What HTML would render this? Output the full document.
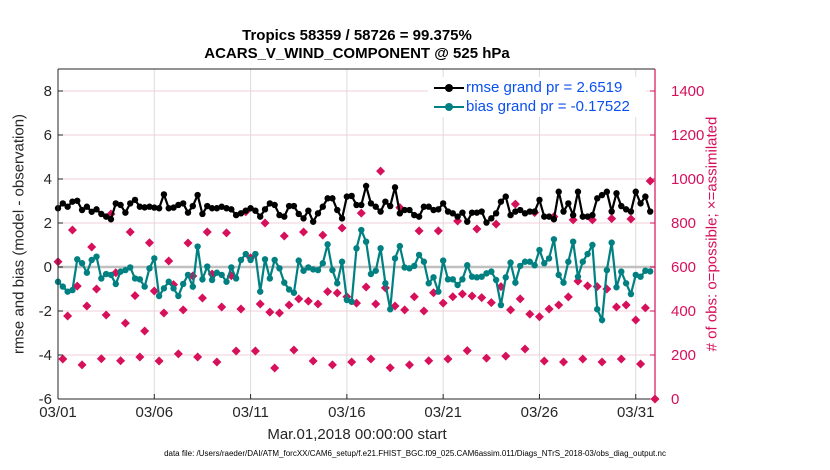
<!DOCTYPE html>
<html><head><meta charset="utf-8"><style>
body{margin:0;background:#fff;}
svg{display:block;font-family:"Liberation Sans",sans-serif;}
</style></head><body>
<svg id="chart" width="830" height="470" viewBox="0 0 830 470"></svg>
<script>
const rmse=[2.67,2.89,2.74,2.97,3.01,2.59,2.74,2.51,2.62,2.41,2.29,2.17,2.89,2.82,2.47,2.89,3.05,2.74,2.71,2.74,2.70,2.67,3.30,2.67,2.70,2.82,2.89,2.47,2.77,3.27,2.41,2.77,2.67,2.67,2.74,2.67,2.62,2.36,2.44,2.56,2.67,2.56,2.29,2.62,2.89,2.82,2.36,2.29,2.77,2.77,2.41,2.21,2.56,2.06,2.44,2.74,3.12,3.12,2.59,2.21,3.20,3.23,2.82,
2.82,3.68,2.89,2.74,2.52,2.97,2.77,3.62,2.44,2.59,2.59,2.36,2.29,2.74,2.74,2.59,2.62,2.89,2.52,2.44,2.29,2.47,2.06,2.47,2.47,2.52,2.02,2.21,2.44,2.97,3.20,2.36,2.52,2.59,2.44,2.52,2.52,3.05,2.29,2.29,2.17,3.42,2.52,2.89,2.36,3.42,2.29,2.29,2.36,3.12,3.27,3.42,2.52,3.35,2.77,2.62,2.52,3.42,2.89,3.20,2.52];
const bias=[-0.67,-0.89,-1.12,-1.05,0.35,0.17,-0.26,0.32,0.47,-0.52,-0.32,-0.36,-0.77,-0.21,-0.14,-0.02,-0.52,-0.56,-0.89,-0.06,0.39,-1.32,-0.97,-0.67,-0.97,-1.32,-0.77,-0.36,-0.89,0.93,-0.56,0.02,-0.59,-0.26,-0.36,-0.67,-0.02,-0.52,0.32,0.59,0.32,0.59,-1.12,0.35,-0.52,0.32,-0.06,-0.71,-1.02,-1.17,0.29,-0.17,-0.02,-0.11,-0.14,0.17,1.03,-0.14,-0.74,0.24,-1.50,-1.58,0.85,
1.68,1.15,-0.32,-0.17,0.85,-0.74,-1.92,0.39,0.95,-0.02,-0.06,0.05,0.55,0.24,-0.74,-0.47,-1.12,0.29,-0.56,-0.56,-0.82,-0.56,0.08,-0.44,-0.47,-0.44,-0.29,-0.21,-0.59,-1.73,-0.47,0.20,-0.71,0.05,0.24,0.24,0.08,0.77,0.17,0.39,1.26,-0.36,-0.71,0.24,1.15,-0.44,0.24,0.59,1.0,-1.92,-2.41,-0.14,1.11,-0.92,-0.21,-0.74,-1.23,-0.36,-0.44,-0.17,-0.2];
const counts=[624,182,377,768,513,155,423,691,500,183,382,841,574,174,345,759,470,191,309,710,491,173,391,627,520,205,405,709,559,191,459,759,568,168,418,755,560,218,409,851,642,218,432,800,395,141,391,741,427,223,455,759,445,173,432,745,488,155,482,777,465,168,436,845,509,182,432,1036,505,142,423,870,405,155,465,764,400,174,483,764,436,182,465,809,477,220,468,773,461,186,438,795,511,195,405,886,455,227,386,847,374,173,409,829,427,168,464,814,536,182,514,814,511,168,500,820,418,182,427,818,359,159,414,991,0];
const xTickDays=[0,5,10,15,20,25,30];
const xTickLabels=["03/01","03/06","03/11","03/16","03/21","03/26","03/31"];
const yTicks=[-6,-4,-2,0,2,4,6,8];
const rTicks=[0,200,400,600,800,1000,1200,1400];

const L=58,R=655,T=69,B=399;
const X=d=>L+(d/31)*(R-L);
const Y=v=>B-(v+6)/15*(B-T);
const YR=c=>B-c/1500*(B-T);
const NS="http://www.w3.org/2000/svg";
const svg=document.getElementById('chart');
function mk(tag,attrs,parent){const e=document.createElementNS(NS,tag);for(const k in attrs)e.setAttribute(k,attrs[k]);(parent||svg).appendChild(e);return e;}
function txt(s,attrs,parent){const e=mk('text',attrs,parent);e.textContent=s;return e;}

// grid
xTickDays.forEach(d=>{const g=mk('line',{x1:X(d),x2:X(d),y1:T,y2:B,stroke:'#dcdcdc','stroke-width':1});

});
rTicks.forEach(c=>{if(c===0)return;const g=mk('line',{x1:L,x2:R,y1:YR(c),y2:YR(c),stroke:'#f0d0dc','stroke-width':1});

});
const zl=mk('line',{x1:L,x2:R,y1:Y(0),y2:Y(0),stroke:'#c0c0c0','stroke-width':2.5});



// counts diamonds
const cg=mk('g',{});


counts.forEach((c,i)=>{const x=X(i*0.25),y=YR(c);
const p=mk('path',{d:`M${x},${y-4.5}L${x+4.5},${y}L${x},${y+4.5}L${x-4.5},${y}Z`,fill:'#d6105a'},cg);

});

// rmse line
function series(arr,color,name){
 const g=mk('g',{});
 
 
 const pts=arr.map((v,i)=>X(i*0.25)+','+Y(v)).join(' ');
 mk('polyline',{points:pts,fill:'none',stroke:color,'stroke-width':2.2},g);
 arr.forEach((v,i)=>{const c=mk('circle',{cx:X(i*0.25),cy:Y(v),r:3.2,fill:color},g);
 
 });
}
series(rmse,'#000000','rmse-series');
series(bias,'#008080','bias-series');

// axes frame
mk('line',{x1:L,x2:R,y1:T,y2:T,stroke:'#262626','stroke-width':1});
const xa=mk('line',{x1:L,x2:R,y1:B,y2:B,stroke:'#262626','stroke-width':1});


const la=mk('line',{x1:L,x2:L,y1:T,y2:B,stroke:'#262626','stroke-width':1});


const ra=mk('line',{x1:R,x2:R,y1:T,y2:B,stroke:'#d6105a','stroke-width':1.2});



xTickDays.forEach((d,i)=>{mk('line',{x1:X(d),x2:X(d),y1:B,y2:B-5,stroke:'#262626'});
const t=txt(xTickLabels[i],{x:X(d),y:B+18,'text-anchor':'middle','font-size':15,fill:'#262626'});

});
yTicks.forEach(v=>{mk('line',{x1:L,x2:L+5,y1:Y(v),y2:Y(v),stroke:'#262626'});
const t=txt(String(v),{x:L-6,y:Y(v)+5,'text-anchor':'end','font-size':15,fill:'#262626'});

});
rTicks.forEach(c=>{mk('line',{x1:R,x2:R-5,y1:YR(c),y2:YR(c),stroke:'#d6105a'});
const t=txt(String(c),{x:R+16,y:YR(c)+5,'font-size':15,fill:'#d6105a'});

});
</script>
<svg width="0" height="0"></svg>
<div style="position:absolute;left:0;top:0;width:830px;height:470px;pointer-events:none;font-family:'Liberation Sans',sans-serif;">
 <div style="position:absolute;left:0;width:714px;top:27px;text-align:center;font-weight:bold;font-size:15px;line-height:18px;color:#000;">Tropics 58359 / 58726 = 99.375%<br>ACARS_V_WIND_COMPONENT @ 525 hPa</div>
 <div style="position:absolute;left:428px;top:77px;width:218px;height:40px;background:#fff;">
  <div style="position:absolute;left:6px;top:2px;font-size:15px;color:#0a4ff0;white-space:nowrap;"><span style="display:inline-block;position:relative;width:30px;height:2px;background:#000;vertical-align:middle;margin-right:2px;"><span style="position:absolute;left:11px;top:-3px;width:8px;height:8px;border-radius:50%;background:#000;"></span></span>rmse grand pr = 2.6519</div>
  <div style="position:absolute;left:6px;top:21px;font-size:15px;color:#0a4ff0;white-space:nowrap;"><span style="display:inline-block;position:relative;width:30px;height:2px;background:#008080;vertical-align:middle;margin-right:2px;"><span style="position:absolute;left:11px;top:-3px;width:8px;height:8px;border-radius:50%;background:#008080;"></span></span>bias grand pr = -0.17522</div>
 </div>
 <div style="position:absolute;left:19px;top:234px;width:0;height:0;"><div style="position:absolute;transform:translate(-50%,-50%) rotate(-90deg);white-space:nowrap;font-size:15px;color:#262626;">rmse and bias (model - observation)</div></div>
 <div style="position:absolute;left:712px;top:234px;width:0;height:0;"><div style="position:absolute;transform:translate(-50%,-50%) rotate(-90deg);white-space:nowrap;font-size:15px;color:#d6105a;">#  of obs: o=possible; &#215;=assimilated</div></div>
 <div style="position:absolute;left:0;width:714px;top:426px;text-align:center;font-size:15px;color:#262626;">Mar.01,2018 00:00:00 start</div>
 <div style="position:absolute;left:0;width:830px;top:449px;text-align:center;font-size:8px;color:#000;padding-left:0;">data file: /Users/raeder/DAI/ATM_forcXX/CAM6_setup/f.e21.FHIST_BGC.f09_025.CAM6assim.011/Diags_NTrS_2018-03/obs_diag_output.nc</div>
</div>
</body></html>
